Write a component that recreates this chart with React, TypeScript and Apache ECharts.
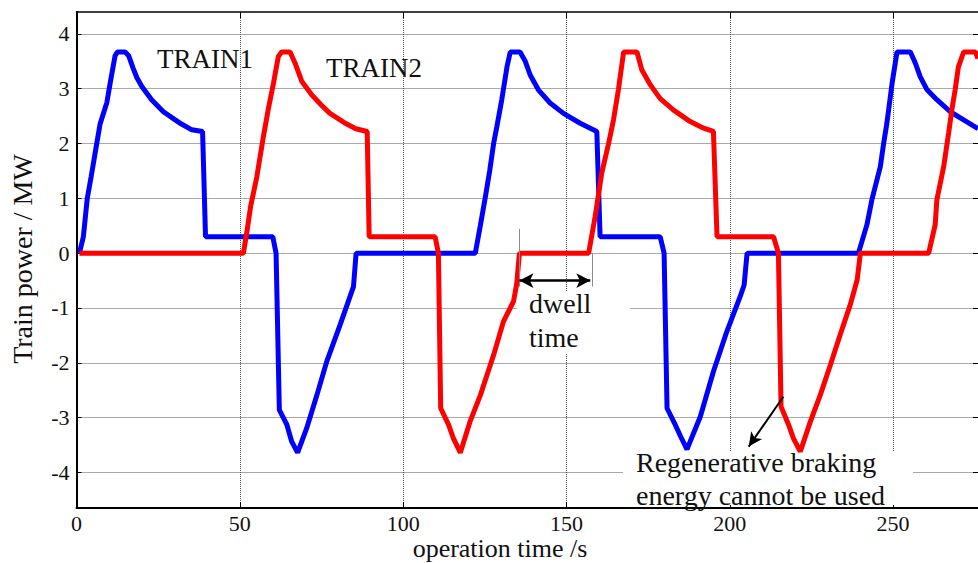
import React, { useEffect, useRef } from "react";
import * as echarts from "echarts";

const xTicks = [0, 50, 100, 150, 200, 250];
const yTicks = [-4, -3, -2, -1, 0, 1, 2, 3, 4];
const xRange = [0, 276];
const yRange = [-4.65, 4.4];

// TRAIN1 power (t [s], P [MW])
const train1: [number, number][] = [
  [0.9, 0], [2.1, 0.3], [3.3, 1.0], [4.5, 1.4], [6.2, 2.0], [7.2, 2.35], [8.5, 2.6], [9.3, 2.75],
  [10.3, 3.1], [11.8, 3.6], [12.5, 3.67], [14.9, 3.67], [16.0, 3.6], [17.3, 3.38], [18.5, 3.2],
  [20, 3.04], [23, 2.8], [26.6, 2.58], [30, 2.44], [32, 2.36], [35.3, 2.25], [38.6, 2.22],
  [39.5, 0.3], [60.1, 0.3], [61.1, 0], [62.1, -2.86], [64.4, -3.13], [65.9, -3.44], [67.7, -3.64],
  [70.5, -3.19], [73.6, -2.59], [76.6, -1.98], [80.7, -1.31], [84.8, -0.61], [85.6, 0],
  [122.1, 0], [123.6, 0.49], [125.1, 1.0], [126.5, 1.5], [127.7, 2.0], [128.7, 2.31], [130.2, 2.8],
  [131.8, 3.4], [132.8, 3.67], [135.8, 3.67], [137.4, 3.5], [138.9, 3.25], [141.4, 2.98],
  [145, 2.74], [149.1, 2.55], [154.2, 2.37], [159.3, 2.22], [160.3, 0.3], [178.7, 0.3],
  [179.9, 0], [180.8, -2.83], [183.3, -3.13], [185, -3.35], [186.9, -3.58], [191, -2.98],
  [195, -2.16], [199.1, -1.43], [203.2, -0.79], [204.4, -0.58], [205.3, 0], [239.4, 0],
  [242, 0.52], [243.5, 0.97], [246.1, 1.58], [247.1, 2.0], [248.1, 2.37], [249.7, 3.1],
  [251.2, 3.67], [255.3, 3.67], [256.8, 3.47], [258.3, 3.22], [260.4, 2.98], [263.4, 2.8],
  [267.5, 2.58], [271.6, 2.43], [276, 2.27],
];

// TRAIN2 power (t [s], P [MW])
const train2: [number, number][] = [
  [0.9, 0], [51.1, 0], [52.2, 0.4], [53.3, 0.85], [55.2, 1.39], [57.2, 2.12], [58.7, 2.62],
  [60.3, 3.1], [61.8, 3.59], [62.8, 3.67], [65.4, 3.67], [66.9, 3.47], [69, 3.13], [72, 2.89],
  [75, 2.7], [77.6, 2.55], [82, 2.38], [85.5, 2.27], [89.0, 2.22], [89.6, 0.3], [109.8, 0.3],
  [110.8, 0], [111.5, -2.83], [113.9, -3.13], [115.4, -3.38], [117.5, -3.64], [120.5, -3.07],
  [123.6, -2.6], [127.7, -1.86], [130.7, -1.25], [133.8, -0.88], [134.8, -0.55], [135.6, 0],
  [156.8, 0], [158.8, 0.67], [160.8, 1.46], [162.9, 2.0], [164.4, 2.43], [165.9, 2.98],
  [167.5, 3.67], [171.6, 3.67], [173.1, 3.34], [175.7, 3.07], [178.7, 2.82], [182.8, 2.61],
  [187.9, 2.4], [192, 2.28], [195, 2.22], [196.1, 0.3], [213.4, 0.3], [214.9, 0], [215.7, -2.8],
  [218, -3.13], [219.5, -3.38], [221.6, -3.62], [224.7, -3.07], [227.7, -2.59], [230.8, -2.04],
  [233.8, -1.49], [236.9, -0.94], [239, -0.49], [240, 0], [260.9, 0], [262.9, 0.52],
  [263.4, 0.97], [265.5, 1.58], [267, 2.19], [268, 2.62], [269, 2.98], [270, 3.4], [271.6, 3.67],
  [275.2, 3.67], [276, 3.55],
];

// annotation anchors (data coords)
const dwellArrow: [number, number][] = [[135.6, -0.5], [157.3, -0.5]];
const dwellGuide1: [number, number][] = [[135.6, 0.44], [135.6, -0.61]];
const dwellGuide2: [number, number][] = [[157.8, 0.0], [157.8, -0.61]];
const brakeArrow: [number, number][] = [[216.4, -2.62], [205.8, -3.53]];

const FONT = "Liberation Serif";

export default function App() {
  const ref = useRef<HTMLDivElement>(null);
  useEffect(() => {
    const chart = echarts.init(ref.current!, null, { renderer: "svg" });
    const grid = "#555";
    chart.setOption({
      animation: false,
      backgroundColor: "#fff",
      grid: { left: 76.5, right: 0, top: 12, bottom: 55, containLabel: false },
      xAxis: [
        {
          type: "value",
          min: xRange[0],
          max: xRange[1],
          position: "bottom",
          axisLine: { show: true, onZero: false, lineStyle: { color: "#000", width: 2 } },
          axisTick: { show: true, inside: true, length: 6, customValues: xTicks, lineStyle: { color: "#000", width: 1 } },
          axisLabel: { customValues: xTicks, color: "#111", fontSize: 22, fontFamily: FONT, margin: 4, lineHeight: 22 },
          splitLine: { show: true, lineStyle: { color: grid, width: 1, type: [1, 1] } },
        },
        {
          type: "value",
          min: xRange[0],
          max: xRange[1],
          position: "top",
          axisLine: { show: true, onZero: false, lineStyle: { color: "#000", width: 1.5 } },
          axisTick: { show: true, inside: true, length: 6, customValues: xTicks, lineStyle: { color: "#000", width: 1 } },
          axisLabel: { show: false },
          splitLine: { show: false },
        },
      ],
      yAxis: [
        {
          type: "value",
          min: yRange[0],
          max: yRange[1],
          position: "left",
          axisLine: { show: true, onZero: false, lineStyle: { color: "#000", width: 2 } },
          axisTick: { show: true, inside: true, length: 5, customValues: yTicks, lineStyle: { color: "#000", width: 1 } },
          axisLabel: { customValues: yTicks, color: "#111", fontSize: 22, fontFamily: FONT, margin: 7 },
          splitLine: { show: true, lineStyle: { color: grid, width: 1, type: [1, 1] } },
        },
        {
          type: "value",
          min: yRange[0],
          max: yRange[1],
          position: "right",
          axisLine: { show: false, onZero: false },
          axisTick: { show: true, inside: true, length: 5, customValues: yTicks, lineStyle: { color: "#000", width: 1 } },
          axisLabel: { show: false },
          splitLine: { show: false },
        },
      ],
      series: [
        {
          name: "TRAIN1",
          type: "line",
          data: train1,
          showSymbol: false,
          symbol: "none",
          lineStyle: { color: "#0000ff", width: 5 },
          z: 3,
        },
        {
          name: "TRAIN2",
          type: "line",
          data: train2,
          showSymbol: false,
          symbol: "none",
          lineStyle: { color: "#ff0000", width: 5 },
          z: 4,
          markLine: {
            silent: true,
            animation: false,
            label: { show: false },
            data: [
              [
                { coord: dwellGuide1[0], symbol: "none", lineStyle: { color: "#8a8a8a", width: 1, type: "solid" } },
                { coord: dwellGuide1[1], symbol: "none" },
              ],
              [
                { coord: dwellGuide2[0], symbol: "none", lineStyle: { color: "#8a8a8a", width: 1, type: "solid" } },
                { coord: dwellGuide2[1], symbol: "none" },
              ],
              [
                { coord: dwellArrow[0], symbol: "arrow", symbolSize: [11, 14], lineStyle: { color: "#000", width: 2.5, type: "solid" } },
                { coord: dwellArrow[1], symbol: "arrow", symbolSize: [11, 14] },
              ],
              [
                { coord: brakeArrow[0], symbol: "none", lineStyle: { color: "#000", width: 2, type: "solid" } },
                { coord: brakeArrow[1], symbol: "arrow", symbolSize: [10, 14] },
              ],
            ],
          },
        },
      ],
    });

    const textStyle = (text: string, size = 28) => ({
      text,
      fill: "#111",
      font: `${size}px "${FONT}"`,
      lineHeight: size,
      verticalAlign: "middle",
    });

    chart.setOption({
      graphic: [
        { type: "rect", z: 1, shape: { x: 517, y: 291, width: 113, height: 62 }, style: { fill: "#fff" } },
        { type: "rect", z: 1, shape: { x: 623, y: 452, width: 290, height: 53 }, style: { fill: "#fff" } },
        { type: "text", z: 10, x: 157, y: 59, style: textStyle("TRAIN1", 27) },
        { type: "text", z: 10, x: 326, y: 68, style: textStyle("TRAIN2", 27) },
        { type: "text", z: 10, x: 529, y: 303, style: textStyle("dwell") },
        { type: "text", z: 10, x: 529, y: 337, style: textStyle("time") },
        { type: "text", z: 10, x: 636, y: 462, style: textStyle("Regenerative braking") },
        { type: "text", z: 10, x: 636, y: 495, style: textStyle("energy cannot be used") },
        {
          type: "text", z: 10, x: 500, y: 548,
          style: { ...textStyle("operation time /s", 26), align: "center" },
        },
        {
          type: "text", z: 10, x: 22, y: 259, rotation: Math.PI / 2,
          style: { ...textStyle("Train power / MW"), align: "center" },
        },
      ],
    });
    return () => chart.dispose();
  }, []);
  return (
    <div
      ref={ref}
      style={{ position: "absolute", left: 0, top: 0, width: 978, height: 563, background: "#fff" }}
    />
  );
}
